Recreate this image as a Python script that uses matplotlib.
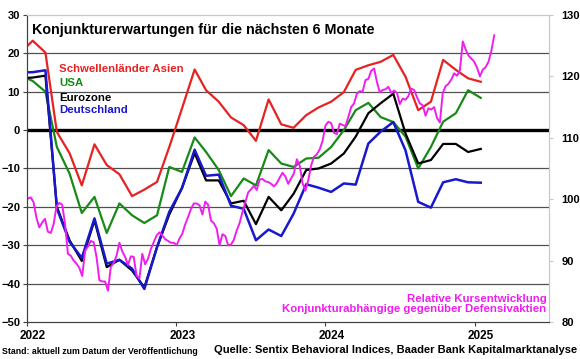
import matplotlib
matplotlib.use('Agg')
import matplotlib.pyplot as plt
import matplotlib.dates as mdates
from matplotlib.transforms import ScaledTranslation
import pandas as pd

plt.rcParams['font.family'] = ['Liberation Sans', 'DejaVu Sans']
plt.rcParams['font.weight'] = 'bold'

# sentix, monthly (Dec 2021 - Jan 2025)
months = pd.date_range('2021-12-01', periods=38, freq='MS') + pd.Timedelta(days=14)
asien = [20.1, 23.3, 20.2, -0.5, -6.0, -14.4, -3.7, -9.1, -11.5, -17.2, -15.5, -13.5,
         -4.4, 5.6, 15.8, 10.4, 7.4, 3.3, 1.3, -2.8, 8.0, 1.5, 0.6, 3.9,
         5.9, 7.4, 9.9, 15.7, 16.9, 17.8, 19.6, 13.9, 5.2, 7.4, 18.3, 15.7, 13.5, 12.6]
usa = [14.3, 12.8, 10.0, -4.4, -11.3, -21.6, -17.4, -26.8, -19.1, -22.2, -24.2, -22.2,
       -9.6, -10.9, -1.9, -5.7, -10.4, -17.2, -12.6, -14.4, -5.2, -8.7, -9.6, -7.4,
       -7.2, -4.4, 0.0, 5.2, 7.1, 3.4, 2.1, -1.7, -10.0, -4.4, 2.2, 4.4, 10.4, 8.4]
eurozone = [13.5, 13.7, 14.2, -20.0, -28.7, -34.1, -23.5, -35.7, -33.8, -36.6, -41.0, -30.5,
            -22.0, -15.1, -6.0, -13.1, -13.1, -19.1, -18.4, -24.5, -17.4, -20.9, -16.6, -10.4,
            -10.0, -8.7, -6.1, -1.7, 4.4, 7.0, 9.5, -0.9, -8.7, -7.8, -3.6, -3.6, -5.7, -4.9]
deutschland = [15.0, 15.1, 15.6, -20.4, -29.1, -33.3, -23.0, -34.8, -33.8, -36.1, -41.4, -30.5,
               -21.3, -15.1, -5.1, -11.9, -11.6, -19.7, -20.5, -28.7, -25.9, -27.6, -21.8, -14.1,
               -15.0, -16.1, -13.9, -14.2, -3.5, -0.4, 2.1, -5.3, -18.7, -20.2, -13.6, -12.8, -13.6, -13.7]

# relative performance cyclicals vs. defensives, weekly (right axis)
relativ = [100.1, 100.3, 99.5, 97.0, 95.4, 96.2, 96.8, 94.7, 94.5, 95.9,
           98.8, 99.4, 99.1, 96.0, 91.1, 90.8, 90.0, 89.5, 88.8, 87.5,
           91.6, 92.3, 93.2, 93.0, 90.6, 86.8, 86.6, 86.6, 85.1, 89.0,
           89.6, 90.8, 92.9, 91.5, 90.6, 89.3, 90.7, 90.6, 87.5, 87.1,
           91.1, 89.4, 90.3, 91.9, 93.0, 94.1, 94.6, 94.1, 93.5, 93.2,
           92.9, 92.9, 92.5, 93.6, 94.4, 95.9, 97.1, 98.4, 99.3, 99.3,
           99.0, 97.5, 99.6, 99.1, 96.5, 96.1, 95.2, 92.5, 94.3, 94.0,
           92.5, 92.6, 93.4, 94.9, 96.1, 97.9, 99.5, 101.1, 101.6, 102.2,
           101.5, 103.2, 103.3, 102.9, 102.8, 102.5, 102.1, 102.6, 103.5, 104.3,
           103.7, 102.5, 103.4, 104.2, 106.5, 105.5, 102.6, 101.4, 103.1, 105.5,
           106.9, 107.3, 108.1, 109.5, 112.0, 112.6, 112.4, 110.8, 110.6, 112.3,
           112.1, 111.9, 113.4, 115.0, 115.6, 117.2, 117.6, 117.5, 119.4, 119.6,
           120.9, 121.3, 119.1, 117.4, 117.8, 117.9, 118.3, 117.3, 117.7, 117.3,
           115.5, 116.4, 116.2, 116.8, 118.0, 117.8, 116.6, 115.6, 115.3, 113.6,
           114.8, 114.6, 115.0, 113.2, 112.5, 117.3, 118.4, 118.8, 119.5, 120.5,
           120.1, 121.0, 125.7, 124.4, 123.4, 122.9, 122.4, 121.4, 120.0, 121.1,
           121.5, 122.4, 124.2, 126.7]
weeks = pd.date_range('2022-01-03', periods=len(relativ), freq='7D')

left_ticks = list(range(-50, 31, 10))
right_ticks = list(range(80, 131, 10))

fig = plt.figure(figsize=(5.8, 3.59), dpi=100)
ax = fig.add_axes([0.0466, 0.1031, 0.9, 0.8551])
ax2 = ax.twinx()

ax.hlines([t for t in left_ticks[1:-1] if t != 0], pd.Timestamp('2021-06-01'), pd.Timestamp('2026-01-01'),
          color='#505050', lw=0.9, zorder=1)
ax.axhline(0, color='black', lw=2.4, zorder=2)

ax.plot(months, asien, color='#e62222', lw=1.6, zorder=3)
ax.plot(months, usa, color='#188a18', lw=1.6, zorder=3)
ax.plot(months, eurozone, color='black', lw=1.6, zorder=3)
ax.plot(months, deutschland, color='#1818cc', lw=1.8, zorder=3)
ax2.plot(weeks, relativ, color='#ee1fee', lw=1.4)

ax.set_xlim(pd.Timestamp('2022-01-01'), pd.Timestamp('2025-07-01'))
ax.set_ylim(-50, 30)
ax2.set_ylim(80, 130)
ax.set_yticks(left_ticks)
ax2.set_yticks(right_ticks)
ax.xaxis.set_major_locator(mdates.YearLocator())
ax.xaxis.set_major_formatter(mdates.DateFormatter('%Y'))

for a in (ax, ax2):
    a.spines['top'].set_color('#c8c8c8')
    a.spines['right'].set_color('#c8c8c8')
    a.spines['left'].set_color('#404040')
    a.spines['bottom'].set_color('#404040')
ax.tick_params(axis='y', labelsize=8, length=3, width=0.8, color='#404040', pad=2)
ax.tick_params(axis='x', labelsize=8.5, length=3, width=0.8, color='#404040', pad=3)
ax2.tick_params(axis='y', labelsize=8, length=3, width=0.8, color='#c8c8c8', pad=6)

# year labels sit a little right of the tick, as in the original
shift = ScaledTranslation(6 / 100, 0, fig.dpi_scale_trans)
for lab in ax.get_xticklabels():
    lab.set_transform(lab.get_transform() + shift)

ax.text(0.01, 0.975, 'Konjunkturerwartungen für die nächsten 6 Monate', transform=ax.transAxes,
        fontsize=10.3, ha='left', va='top')
ax.text(0.062, 0.824, 'Schwellenländer Asien', transform=ax.transAxes, fontsize=8.2, color='#e62222', va='center')
ax.text(0.062, 0.780, 'USA', transform=ax.transAxes, fontsize=8.2, color='#188a18', va='center')
ax.text(0.062, 0.730, 'Eurozone', transform=ax.transAxes, fontsize=8.2, color='black', va='center')
ax.text(0.062, 0.692, 'Deutschland', transform=ax.transAxes, fontsize=8.2, color='#1818cc', va='center')
ax.text(0.995, 0.057, 'Relative Kursentwicklung\nKonjunkturabhängige gegenüber Defensivaktien',
        transform=ax.transAxes, fontsize=8.2, color='#ee1fee', ha='right', va='center',
        multialignment='right', linespacing=1.0)

fig.text(0.003, 0.008, 'Stand: aktuell zum Datum der Veröffentlichung', fontsize=6.3, va='bottom')
fig.text(0.995, 0.012, 'Quelle: Sentix Behavioral Indices, Baader Bank Kapitalmarktanalyse',
         fontsize=8, ha='right', va='bottom')

fig.savefig('out.png', dpi=100)
